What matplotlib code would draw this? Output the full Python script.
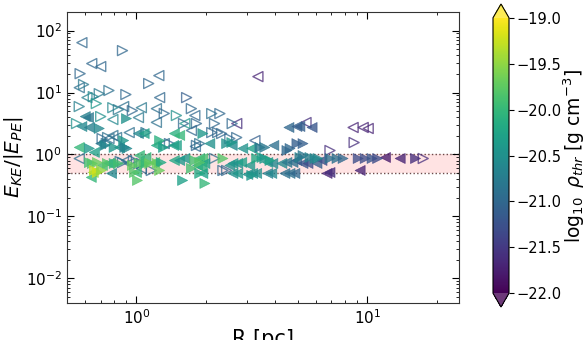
import numpy as np
import matplotlib
matplotlib.use("Agg")
import matplotlib.pyplot as plt
from matplotlib.colors import Normalize

# R [pc]
R = [0.58, 0.87, 0.64, 0.70, 0.57, 1.25, 1.13, 0.565, 0.59, 0.76,
     0.90, 0.69, 0.65, 0.61, 1.26, 1.65, 0.565, 0.67, 0.79, 0.835,
     0.88, 0.96, 1.05, 1.22, 1.32, 1.73, 0.60, 0.62, 0.70, 0.79,
     0.905, 1.02, 1.22, 1.49, 1.62, 0.58, 0.625, 0.69, 0.55, 0.76,
     0.82, 0.74, 0.88, 0.93, 1.02, 1.08, 1.26, 1.32, 1.46, 1.60,
     0.565, 0.657, 0.80, 0.845, 1.22, 1.31, 1.45, 0.625, 0.70, 0.73,
     0.71, 0.75, 0.79, 0.89, 0.91, 1.10, 1.39, 1.49, 1.82, 1.88,
     1.54, 1.94, 1.79, 2.12, 2.30, 1.82, 2.18, 2.60, 2.72, 2.25,
     1.73, 2.12, 1.80, 2.08, 2.46, 2.59, 2.60, 2.54, 2.72, 3.26,
     2.89, 3.16, 3.43, 3.60, 3.94, 4.49, 4.63, 4.96, 5.27, 3.36,
     4.58, 4.96, 5.11, 5.77, 5.43, 8.69, 9.61, 10.1, 8.78, 6.9,
     2.34,
     0.565, 0.625, 0.644, 0.677, 0.712, 0.748, 0.80, 0.763, 0.835, 0.85,
     0.87, 0.905, 0.93, 0.97, 0.96, 1.03, 1.05, 1.08, 1.10, 1.14,
     1.03, 1.10, 1.20, 1.23, 1.28, 1.26, 1.16, 1.05, 1.00, 0.98,
     1.01, 0.657, 0.677, 0.704, 0.65, 0.637, 0.78, 1.46, 1.54, 1.62,
     1.73, 1.585, 1.79, 1.88, 1.88, 1.94, 2.18, 2.37, 1.84, 1.98,
     1.92, 1.94, 1.88, 1.98, 2.37, 2.46, 2.54, 2.62, 2.75, 2.86,
     2.62, 2.75, 3.04, 3.19, 3.32, 3.50, 3.60, 3.79, 3.71, 3.90,
     4.27, 4.49, 4.77, 4.96, 5.11, 5.27, 5.65, 5.94, 6.12, 5.27,
     5.54, 6.06, 6.37, 3.71, 3.86, 4.40, 4.63, 4.86, 3.16, 6.9,
     7.4, 7.86, 9.14, 9.8, 10.5, 11.1, 12.0, 13.9, 16.2, 17.5,
     9.32, 6.7, 6.9, 3.10, 3.32]

# E_KE / |E_PE|
E = [64.0, 47.6, 29.4, 26.3, 20.2, 18.8, 14.0, 12.0, 13.5, 10.8,
     9.3, 9.6, 8.6, 8.3, 8.3, 8.3, 5.95, 6.65, 5.7, 5.3,
     5.95, 5.1, 5.7, 5.5, 4.6, 5.5, 4.1, 3.95, 4.1, 3.67,
     3.8, 3.95, 3.3, 4.26, 3.16, 2.83, 2.73, 2.63, 3.16, 1.81,
     1.88, 1.50, 1.68, 2.26, 2.18, 2.18, 1.68, 1.50, 2.18, 3.16,
     1.30, 1.08, 1.30, 1.30, 1.40, 1.30, 1.40, 1.25, 1.50, 1.40,
     1.81, 1.88, 2.03, 1.30, 1.25, 2.26, 1.50, 1.40, 1.40, 1.50,
     2.03, 2.18, 4.26, 4.58, 4.58, 3.16, 3.16, 3.16, 3.16, 2.26,
     2.44, 2.26, 1.35, 1.50, 1.50, 1.56, 1.40, 1.81, 1.88, 1.68,
     1.25, 1.25, 1.30, 1.30, 1.40, 1.16, 1.25, 1.50, 1.50, 18.1,
     2.73, 2.83, 2.83, 2.73, 3.28, 2.73, 2.73, 2.63, 1.56, 1.16,
     2.18,
     0.86, 0.74, 0.716, 0.743, 0.665, 0.716, 0.716, 0.716, 0.716, 0.77,
     0.743, 0.80, 0.716, 0.80, 0.665, 0.716, 0.716, 0.716, 0.716, 0.716,
     0.963, 0.895, 0.743, 0.716, 0.743, 0.552, 0.552, 0.595, 0.512, 0.512,
     0.381, 0.552, 0.512, 0.552, 0.512, 0.426, 0.494, 0.80, 0.80, 0.862,
     0.595, 0.381, 0.80, 0.743, 0.862, 0.862, 0.862, 0.862, 0.665, 0.716,
     0.617, 0.494, 0.494, 0.341, 0.552, 0.552, 0.665, 0.716, 0.716, 0.743,
     0.494, 0.494, 0.476, 0.494, 0.862, 0.895, 0.862, 0.80, 0.743, 0.716,
     0.716, 0.743, 0.743, 0.80, 0.895, 0.963, 0.895, 0.862, 0.862, 0.716,
     0.716, 0.716, 0.80, 0.494, 0.494, 0.494, 0.494, 0.494, 0.459, 0.862,
     0.862, 0.862, 0.862, 0.862, 0.862, 0.862, 0.895, 0.862, 0.862, 0.862,
     0.552, 0.494, 0.512, 0.665, 0.494]

# log10 rho_thr [g cm^-3]
logrho = [-21.0, -21.0, -21.0, -21.0, -21.0, -21.0, -21.0, -20.9, -20.8, -20.9,
          -21.0, -20.8, -20.6, -20.7, -21.0, -21.1, -20.7, -20.4, -20.6, -20.8,
          -20.9, -21.0, -20.8, -20.9, -21.0, -21.0, -20.7, -20.8, -20.5, -20.6,
          -20.5, -20.8, -20.9, -20.5, -20.4, -20.6, -20.7, -20.6, -20.5, -20.9,
          -20.9, -20.9, -20.4, -20.9, -20.6, -20.3, -20.1, -20.9, -20.1, -21.0,
          -20.0, -20.3, -20.4, -20.5, -20.2, -20.3, -20.3, -20.4, -20.8, -20.6,
          -21.0, -20.9, -20.9, -20.7, -20.6, -20.9, -21.0, -20.3, -21.0, -20.9,
          -20.0, -20.4, -21.0, -20.9, -21.0, -21.0, -21.0, -21.0, -21.6, -21.0,
          -21.0, -21.0, -21.0, -20.5, -20.5, -20.4, -20.6, -21.0, -21.0, -21.1,
          -20.5, -20.3, -20.8, -20.8, -20.9, -21.0, -21.0, -21.1, -21.1, -21.7,
          -21.0, -21.1, -21.1, -21.2, -21.6, -21.7, -21.7, -21.7, -21.6, -21.6,
          -21.0,
          -20.9, -19.9, -19.8, -19.7, -19.9, -19.8, -20.0, -20.2, -19.9, -20.9,
          -20.9, -20.9, -20.9, -21.0, -19.7, -19.8, -21.0, -19.8, -20.0, -19.7,
          -20.0, -20.0, -19.8, -19.7, -20.2, -19.7, -21.0, -21.0, -20.0, -19.8,
          -19.8, -19.3, -19.2, -19.5, -19.5, -20.0, -20.6, -20.2, -20.4, -20.4,
          -19.9, -20.3, -19.9, -19.8, -20.0, -19.9, -20.9, -19.8, -20.2, -20.3,
          -20.1, -20.3, -20.2, -20.0, -21.0, -21.0, -20.5, -20.4, -20.5, -20.3,
          -20.5, -20.4, -20.5, -20.5, -20.2, -20.3, -20.4, -20.3, -20.4, -20.6,
          -20.6, -20.8, -20.9, -21.0, -20.7, -20.8, -20.7, -20.6, -20.6, -21.2,
          -21.3, -21.1, -21.3, -20.7, -20.6, -20.9, -20.9, -21.0, -20.4, -20.9,
          -20.9, -21.0, -21.3, -21.3, -21.2, -21.3, -21.8, -21.7, -21.6, -21.6,
          -21.7, -21.7, -21.6, -20.4, -20.5]

# marker orientation
marker = ['<', '>', '<', '<', '>', '<', '>', '<', '>', '>',
          '>', '>', '>', '<', '<', '>', '>', '>', '>', '>',
          '<', '>', '<', '<', '>', '>', '<', '<', '>', '<',
          '>', '<', '<', '>', '<', '<', '<', '>', '>', '<',
          '<', '>', '>', '<', '<', '<', '>', '<', '<', '>',
          '<', '<', '>', '<', '<', '>', '<', '>', '<', '>',
          '>', '>', '<', '>', '>', '>', '>', '<', '>', '>',
          '<', '>', '<', '>', '>', '>', '>', '>', '<', '>',
          '<', '>', '<', '<', '>', '>', '<', '>', '>', '<',
          '<', '<', '>', '>', '<', '>', '>', '>', '>', '<',
          '<', '<', '<', '<', '<', '<', '<', '<', '>', '>',
          '>',
          '<', '>', '>', '>', '<', '>', '>', '<', '>', '>',
          '>', '<', '<', '>', '>', '>', '>', '>', '>', '>',
          '<', '<', '<', '>', '>', '>', '>', '<', '<', '>',
          '>', '>', '>', '>', '<', '<', '<', '<', '<', '<',
          '>', '>', '>', '>', '<', '<', '>', '>', '<', '<',
          '<', '<', '>', '>', '>', '>', '<', '<', '<', '<',
          '<', '<', '<', '<', '>', '>', '>', '>', '<', '<',
          '<', '<', '<', '<', '>', '>', '>', '>', '>', '<',
          '<', '<', '<', '<', '<', '<', '<', '<', '>', '>',
          '>', '>', '>', '>', '>', '>', '<', '<', '>', '>',
          '<', '<', '<', '<', '<']

# filled (1) or open (0)
filled = [0, 0, 0, 0, 0, 0, 0, 0, 0, 0,
          0, 0, 0, 0, 0, 0, 0, 0, 0, 0,
          0, 0, 0, 0, 0, 0, 1, 1, 0, 0,
          1, 0, 0, 0, 0, 1, 1, 1, 0, 0,
          0, 0, 1, 0, 1, 1, 1, 0, 1, 0,
          1, 1, 1, 1, 1, 1, 1, 1, 1, 1,
          0, 0, 0, 1, 1, 0, 0, 1, 0, 0,
          1, 1, 0, 0, 0, 0, 0, 0, 0, 0,
          0, 0, 0, 1, 1, 1, 1, 0, 0, 0,
          1, 1, 1, 1, 1, 1, 1, 1, 1, 0,
          1, 1, 1, 1, 0, 0, 0, 0, 0, 0,
          0,
          0, 1, 1, 1, 1, 1, 1, 1, 1, 0,
          0, 0, 0, 0, 1, 1, 0, 1, 1, 1,
          1, 1, 1, 1, 1, 1, 0, 0, 1, 1,
          1, 1, 1, 1, 1, 1, 1, 1, 1, 1,
          1, 1, 1, 1, 1, 1, 0, 1, 1, 1,
          1, 1, 1, 1, 0, 0, 1, 1, 1, 1,
          1, 1, 1, 1, 1, 1, 1, 1, 1, 1,
          1, 1, 1, 1, 1, 1, 1, 1, 1, 1,
          1, 1, 1, 1, 1, 1, 1, 1, 1, 1,
          1, 1, 1, 1, 1, 1, 1, 1, 1, 0,
          1, 1, 1, 1, 1]

cbar_ticks = [-22.0, -21.5, -21.0, -20.5, -20.0, -19.5, -19.0]

R = np.array(R); E = np.array(E); logrho = np.array(logrho)
marker = np.array(marker); filled = np.array(filled)

fig = plt.figure(figsize=(5.86, 3.4), dpi=100)
ax = fig.add_axes([67/586, 37/340, 392/586, 291/340])
cmap = plt.get_cmap('viridis')
norm = Normalize(vmin=-22, vmax=-19)

ax.axhspan(0.5, 1.0, color='#ffdede', alpha=0.85, zorder=0, lw=0)
ax.axhline(0.5, color='#6b4a4a', ls=':', lw=1.0, zorder=1)
ax.axhline(1.0, color='#6b4a4a', ls=':', lw=1.0, zorder=1)

sc = None
for m in ['<', '>']:
    for f in [0, 1]:
        sel = (marker == m) & (filled == f)
        if not sel.any():
            continue
        cols = cmap(norm(logrho[sel]))
        if f:
            s = ax.scatter(R[sel], E[sel], c=logrho[sel], cmap=cmap, norm=norm,
                           marker=m, s=52, alpha=0.78, linewidths=0.5, zorder=3)
            sc = s
        else:
            ax.scatter(R[sel], E[sel], marker=m, s=52, facecolors='none',
                       edgecolors=cols, alpha=0.75, linewidths=1.0, zorder=2)

ax.set_xscale('log')
ax.set_yscale('log')
ax.set_xlim(0.5, 25)
ax.set_ylim(0.004, 200)
ax.tick_params(which='both', direction='in', top=True, right=True, labelsize=11)
ax.tick_params(which='major', length=5)
ax.tick_params(which='minor', length=2.5)
ax.set_ylabel(r'$E_{KE}/|E_{PE}|$', fontsize=14.5, labelpad=1)
ax.set_xlabel('R [pc]', fontsize=15, labelpad=2)
for sp in ax.spines.values():
    sp.set_color('#333333')

cax = fig.add_axes([493/586, 33/340, 16/586, 303/340])
cb = fig.colorbar(sc, cax=cax, extend='both', ticks=cbar_ticks)
cb.solids.set_alpha(1)
cb.ax.tick_params(labelsize=10.5, pad=2)
cb.set_label(r'$\log_{10}\ \rho_{thr}$ [g cm$^{-3}$]', fontsize=13.5, labelpad=0)

fig.savefig('out.png', dpi=100)
